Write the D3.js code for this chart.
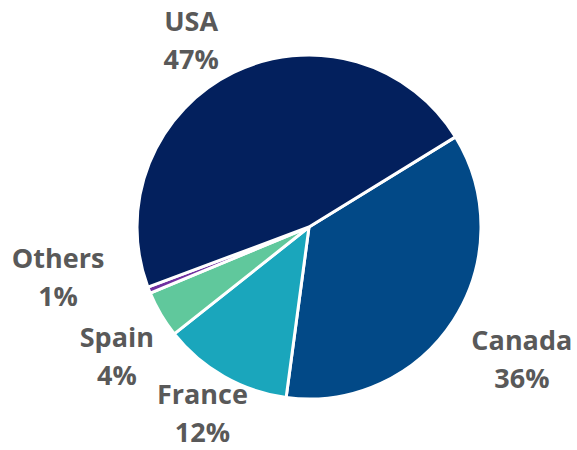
<!DOCTYPE html>
<html>
<head>
<meta charset="utf-8">
<script src="https://cdn.jsdelivr.net/npm/d3@7"></script>
<style>
  html, body { margin: 0; padding: 0; background: #fff; }
  #chart text { font-family: "Open Sans", "Noto Sans", sans-serif; font-weight: 700; fill: #595959; }
</style>
</head>
<body>
<div id="chart"></div>
<script>
/* DATA */
const countries = ["Canada", "France", "Spain", "Others", "USA"];
const shares = [35.9, 12.2, 4.4, 0.6, 46.9];   // percent of total

/* LAYOUT */
const width = 577, height = 450;
const cx = 309, cy = 227, radius = 172;
const startDeg = 58.4;
const colors = ["#024987", "#1aa6bc", "#60c89c", "#7030a0", "#03205d"];
const labelRadius = 230;
// small nudges so the labels sit where the original put them
const nudge = {
  Canada: [20, 7], France: [7, -14], Spain: [6, 12], Others: [-37, -34], USA: [-17, 20]
};
const fontSize = 27, linePitch = 38;

const data = countries.map((c, i) => ({ country: c, share: shares[i] }));

const color = d3.scaleOrdinal().domain(countries).range(colors);

const pie = d3.pie()
  .value(d => d.share)
  .sort(null)
  .startAngle(startDeg * Math.PI / 180)
  .endAngle(startDeg * Math.PI / 180 + 2 * Math.PI);

const arc = d3.arc().innerRadius(0).outerRadius(radius);
const labelArc = d3.arc().innerRadius(labelRadius).outerRadius(labelRadius);

const svg = d3.select("#chart")
  .append("svg")
  .attr("width", width)
  .attr("height", height);

const g = svg.append("g")
  .attr("transform", "translate(" + cx + "," + cy + ")");

const arcs = pie(data);

g.selectAll("path")
  .data(arcs)
  .join("path")
  .attr("d", arc)
  .attr("fill", d => color(d.data.country))
  .attr("stroke", "#fff")
  .attr("stroke-width", 3)
  .attr("stroke-linejoin", "round");

const total = d3.sum(shares);

const labels = g.selectAll("text.lbl")
  .data(arcs)
  .join("text")
  .attr("class", "lbl")
  .attr("text-anchor", "middle")
  .style("font-size", fontSize + "px")
  .attr("transform", d => {
    const p = labelArc.centroid(d);
    const n = nudge[d.data.country];
    return "translate(" + (p[0] + n[0]) + "," + (p[1] + n[1]) + ")";
  });

// block is centred on the anchor: first baseline a bit above, second one pitch below
labels.append("tspan")
  .attr("x", 0)
  .attr("y", -9)
  .text(d => d.data.country);

labels.append("tspan")
  .attr("x", 0)
  .attr("y", -9 + linePitch)
  .text(d => Math.round(d.data.share / total * 100) + "%");
</script>
</body>
</html>
